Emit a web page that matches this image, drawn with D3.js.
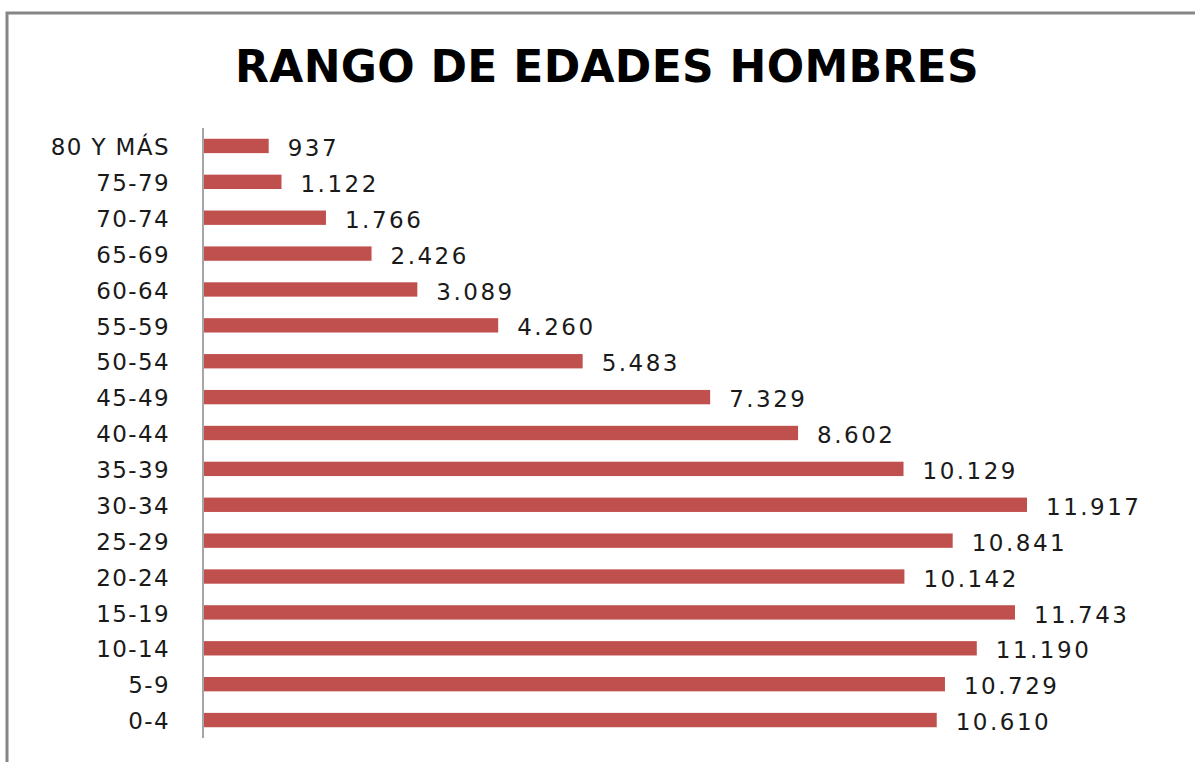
<!DOCTYPE html>
<html>
<head>
<meta charset="utf-8">
<script src="https://cdn.jsdelivr.net/npm/d3@7"></script>
<style>
  body { margin: 0; background: #fff; }
  svg text { font-family: "DejaVu Sans", Verdana, sans-serif; fill: #1a1a1a; }
</style>
</head>
<body>
<div id="chart"></div>
<script>
  const categories = ["80 Y MÁS", "75-79", "70-74", "65-69", "60-64", "55-59", "50-54", "45-49",
    "40-44", "35-39", "30-34", "25-29", "20-24", "15-19", "10-14", "5-9", "0-4"];
  const values = [937, 1122, 1766, 2426, 3089, 4260, 5483, 7329,
    8602, 10129, 11917, 10841, 10142, 11743, 11190, 10729, 10610];
  const title = "RANGO DE EDADES HOMBRES";

  const width = 1195, height = 762;
  const x0 = 204;

  const svg = d3.select("#chart").append("svg")
    .attr("width", width)
    .attr("height", height);

  // frame (cut off on the right and bottom like the source)
  svg.append("rect")
    .attr("x", 7).attr("y", 13)
    .attr("width", width + 20).attr("height", height + 20)
    .attr("fill", "none")
    .attr("stroke", "#868686")
    .attr("stroke-width", 3);

  svg.append("text")
    .attr("x", 607).attr("y", 82)
    .attr("text-anchor", "middle")
    .style("font-weight", "bold")
    .style("font-size", "44px")
    .style("letter-spacing", "0.3px")
    .style("fill", "#000")
    .text(title);

  const x = d3.scaleLinear()
    .domain([0, 11917])
    .range([x0, 1027]);

  const y = d3.scaleBand()
    .domain(categories)
    .range([128, 738])
    .paddingInner(0.6)
    .paddingOuter(0.3);

  svg.selectAll("rect.bar")
    .data(values)
    .join("rect")
    .attr("class", "bar")
    .attr("x", x(0))
    .attr("y", (d, i) => y(categories[i]))
    .attr("width", d => x(d) - x(0))
    .attr("height", y.bandwidth())
    .attr("fill", "#C0504D");

  const axis = svg.append("g")
    .attr("transform", "translate(" + (x0 - 1) + ",0)")
    .call(d3.axisLeft(y).tickSize(0).tickPadding(33));
  axis.select(".domain")
    .attr("d", "M0,128V738")
    .attr("stroke", "#a6a6a6")
    .attr("stroke-width", 2);
  axis.selectAll("text")
    .style("font-size", "23px")
    .style("letter-spacing", "1.4px")
    .attr("dy", "0.4em");

  svg.selectAll("text.value")
    .data(values)
    .join("text")
    .attr("class", "value")
    .attr("x", d => x(d) + 19)
    .attr("y", (d, i) => y(categories[i]) + y.bandwidth() / 2)
    .attr("dy", "0.44em")
    .style("font-size", "23px")
    .style("letter-spacing", "2.5px")
    .text(d => d3.format(",")(d).replace(/,/g, "."));
</script>
</body>
</html>
